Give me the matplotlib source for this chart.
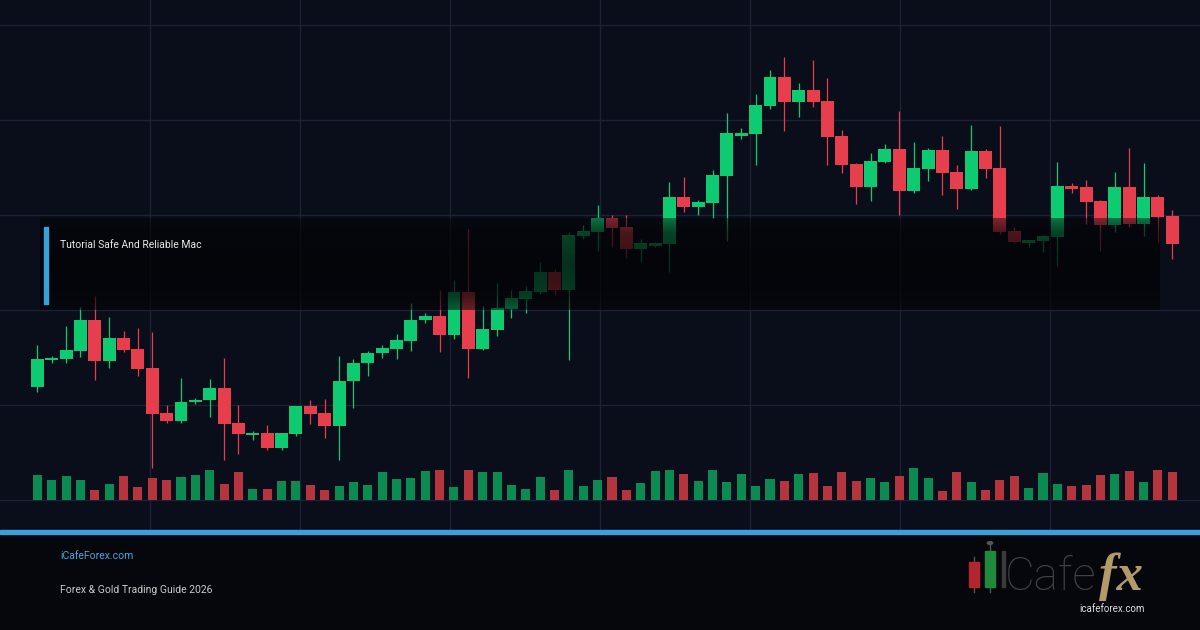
import numpy as np
import matplotlib
matplotlib.use("Agg")
import matplotlib.pyplot as plt
from matplotlib.patches import Rectangle, Circle

# OHLC (arbitrary price units), one entry per candle
opens = [2356.5, 2370, 2370.5, 2374.5, 2390, 2369.5, 2381, 2375.5, 2366, 2343.5,
         2339.5, 2349, 2350, 2356, 2338.5, 2332.5, 2333.5, 2326, 2333, 2347,
         2343.5, 2337, 2359.5, 2368.5, 2373.5, 2375.5, 2379.5, 2390, 2392, 2382.5,
         2404, 2375.5, 2385, 2395.5, 2400.5, 2404, 2414, 2405, 2432, 2434,
         2441, 2436.5, 2425.5, 2427, 2428, 2451.5, 2446.5, 2448.5, 2462, 2482,
         2483, 2497, 2511.5, 2499, 2505, 2499.5, 2482, 2468, 2456.5, 2469,
         2475.5, 2454.5, 2465.5, 2475, 2464, 2455.5, 2474.5, 2466, 2434.5, 2428.5,
         2429.5, 2431.5, 2457, 2456.5, 2449.5, 2437.5, 2456.5, 2438, 2451.5, 2442]
highs = [2377.5, 2372, 2387, 2396.5, 2402, 2391.5, 2384.5, 2386, 2384, 2347.5,
         2361, 2351, 2360.5, 2371, 2347.5, 2334.5, 2337.5, 2333.5, 2347, 2350,
         2350.5, 2372, 2370.5, 2374.5, 2377.5, 2383, 2398.5, 2393.5, 2405, 2410,
         2435.5, 2397, 2408.5, 2405, 2407, 2419, 2415.5, 2434, 2437.5, 2447.5,
         2442.5, 2442.5, 2430.5, 2429, 2459, 2461.5, 2450, 2465, 2493.5, 2486,
         2503, 2515, 2521.5, 2508.5, 2520, 2511, 2485, 2468.5, 2473.5, 2478,
         2494.5, 2479, 2476, 2482, 2467.5, 2487.5, 2475.5, 2487, 2436.5, 2430,
         2432.5, 2469, 2458.5, 2460, 2450, 2464, 2476, 2468.5, 2452.5, 2445]
lows = [2354, 2368.5, 2368.5, 2371.5, 2360, 2366, 2374, 2362, 2316, 2338.5,
        2338.5, 2348, 2341.5, 2320, 2323, 2330, 2325, 2325, 2332, 2338,
        2331, 2320, 2346, 2362, 2371, 2370.5, 2374.5, 2388.5, 2374, 2380.5,
        2361, 2375, 2382, 2391, 2393.5, 2403, 2402.5, 2370, 2430.5, 2424.5,
        2426.5, 2421, 2419, 2426.5, 2414, 2444, 2442.5, 2441, 2429.5, 2480.5,
        2467.5, 2495.5, 2484.5, 2491.5, 2496.5, 2467.5, 2463.5, 2448, 2449.5, 2468.5,
        2442.5, 2453.5, 2459.5, 2452.5, 2445.5, 2455, 2461, 2433, 2428.5, 2426.5,
        2424, 2417, 2453.5, 2438, 2424.5, 2434, 2436.5, 2432, 2429, 2420.5]
closes = [2370.5, 2371, 2375, 2390, 2369.5, 2381, 2375, 2365.5, 2343, 2339.5,
          2349, 2350, 2356, 2338, 2333, 2333.5, 2326, 2333.5, 2347, 2343,
          2337, 2359.5, 2368.5, 2373.5, 2376, 2380, 2390, 2392, 2382.5, 2404,
          2375.5, 2385.5, 2396, 2401, 2404.5, 2414, 2405, 2432.5, 2434.5, 2441,
          2436, 2425.5, 2428.5, 2428.5, 2451.5, 2446.5, 2449, 2462.5, 2483.5, 2483.5,
          2497.5, 2511.5, 2499, 2505, 2499, 2481.5, 2467.5, 2456.5, 2469.5, 2475.5,
          2454.5, 2466, 2475, 2463.5, 2455.5, 2474.5, 2465.5, 2434, 2429, 2430,
          2432, 2457, 2455.5, 2449, 2437.5, 2456.5, 2438, 2451.5, 2441.5, 2428]
volumes = [2500, 2000, 2400, 2000, 1000, 1600, 2400, 1300, 2200, 2000,
           2300, 2500, 3000, 1600, 2800, 1100, 1100, 1900, 1900, 1500,
           1000, 1400, 1800, 1500, 2800, 2100, 2200, 2900, 3000, 1300,
           3000, 2800, 2800, 1500, 1100, 2300, 1000, 3000, 1400, 2000,
           2300, 1000, 1700, 2900, 3000, 2600, 1900, 3000, 1800, 2600,
           1400, 2100, 1900, 2600, 2700, 1400, 2800, 1900, 2200, 1800,
           2400, 3200, 2200, 900, 2800, 1800, 1000, 2000, 2400, 1200,
           2700, 1600, 1400, 1500, 2500, 2600, 2900, 1800, 3000, 2800]

title = "Tutorial Safe And Reliable Mac"
site = "iCafeForex.com"
subtitle = "Forex & Gold Trading Guide 2026"

BG, FOOT, GRID, BLUE = "#0a0e1a", "#05070d", "#1c2233", "#3d9fd8"
UP, DOWN = "#0ecb71", "#e63e4c"
VUP, VDOWN = "#0b8b52", "#b5353f"
FONT = ["Roboto", "DejaVu Sans"]

W, H = 1200, 630
fig = plt.figure(figsize=(12, 6.3), dpi=100, facecolor=FOOT)

ax = fig.add_axes([0, 100 / H, 1, 530 / H], facecolor=BG)
o, hi, lo, c = map(np.array, (opens, highs, lows, closes))
x = np.arange(len(o))
up = c >= o
XL = (-2.6, 80.93)
ax.set_xlim(*XL)
ax.set_ylim(2285, 2550)
ax.set_xticks(np.linspace(*XL, 9)[1:-1])
ax.set_yticks(np.arange(2300, 2540, 47.5))
ax.grid(color=GRID, lw=1)
ax.tick_params(length=0, labelbottom=False, labelleft=False)
for s in ax.spines.values():
    s.set_visible(False)

col = np.where(up, UP, DOWN)
ax.vlines(x, lo, hi, colors=col, lw=0.9, zorder=3)
ax.bar(x, np.maximum(np.abs(c - o), 1), bottom=np.minimum(o, c), width=0.9,
       color=col, zorder=4)

vax = ax.twinx()
vax.set_ylim(-3000, 50000)
vax.axis("off")
vax.bar(x, volumes, width=0.63, color=np.where(up, VUP, VDOWN))

# dark title band over the chart
ov = fig.add_axes([40 / W, (H - 310) / H, 1120 / W, 92 / H], zorder=2)
ov.axis("off")
prof = np.interp(np.linspace(0, 1, 92), [0, 0.15, 0.5, 0.85, 1],
                 [0.45, 0.68, 0.78, 0.72, 0.55])
img = np.zeros((92, 1, 4))
img[..., 0], img[..., 1], img[..., 2] = 0.01, 0.012, 0.02
img[:, 0, 3] = prof
ov.imshow(img, aspect="auto", extent=[0, 1, 0, 1], interpolation="bilinear")

def fx(px):
    return px / W

def fy(py):
    return (H - py) / H

fig.add_artist(Rectangle((fx(44), fy(304)), 3.5 / W, 77 / H, transform=fig.transFigure,
                         color="#3aa0da", zorder=5))
fig.text(fx(60), fy(245), title, color="#e8e8e8", fontsize=7.5, family=FONT,
         va="center", zorder=5)

# footer
fig.add_artist(Rectangle((0, fy(534)), 1, 4 / H, transform=fig.transFigure,
                         color=BLUE, zorder=5))
fig.text(fx(60), fy(556), site, color="#4aa6dc", fontsize=7.5, family=FONT,
         va="center", zorder=5)
fig.text(fx(60), fy(590), subtitle, color="#c9c9c9", fontsize=7.5, family=FONT,
         va="center", zorder=5)

# logo
tf = fig.transFigure
for xc, y0, y1, w0, w1, fc in [(974, 562, 587, 557, 592, "#b3262d"),
                               (990, 551, 587, 545, 592, "#1f8a3c")]:
    fig.add_artist(plt.Line2D([fx(xc), fx(xc)], [fy(w1), fy(w0)], transform=tf,
                              color="#555", lw=1, zorder=5))
    fig.add_artist(Rectangle((fx(xc - 5), fy(y1)), 10 / W, (y1 - y0) / H,
                             transform=tf, color=fc, zorder=6))
fig.add_artist(Circle((fx(990), fy(543)), 0.0022, transform=tf, color="#555", zorder=6))
fig.add_artist(Rectangle((fx(1002), fy(587)), 2.5 / W, 36 / H, transform=tf,
                         color="#3a3a3a", zorder=6))
fig.text(fx(1005), fy(590), "Cafe", color="#424242", fontsize=33, family=FONT,
         fontweight="light", va="baseline", zorder=5)
fig.text(fx(1099), fy(590), "fx", color="#b39a66", fontsize=38,
         family="Liberation Serif", style="italic", fontweight="bold",
         va="baseline", zorder=6)
fig.text(fx(1112), fy(609), "icafeforex.com", color="#dedede", fontsize=7,
         family=FONT, ha="center", va="center", zorder=6)

fig.savefig("out.png", dpi=100, facecolor=FOOT)
